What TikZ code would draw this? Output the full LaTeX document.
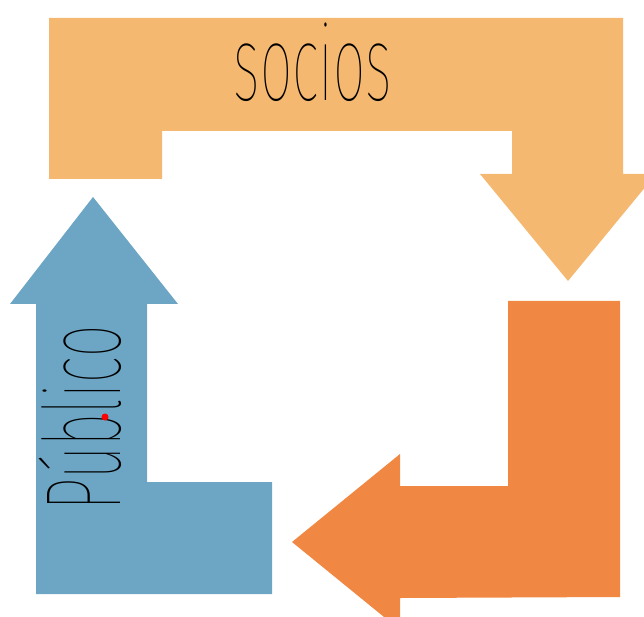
\documentclass[tikz,border=0pt]{standalone}
\usepackage{fontspec}
\newfontfamily\thinfont[FakeStretch=0.535]{Fira Sans Thin}
\definecolor{socioscol}{RGB}{244,184,112}
\definecolor{publicocol}{RGB}{108,166,196}
\definecolor{retornocol}{RGB}{240,136,67}
\tikzset{label text/.style={font=\thinfont\fontsize{61}{61}\selectfont, inner sep=0pt}}

\begin{document}
\begin{tikzpicture}[x=0.02cm,y=-0.02cm]

  \clip (0,0) rectangle (644,617);

  %top arrow
  \fill[socioscol] (49,18) -- (623,18) -- (623,174) -- (656,174) -- (568,281) -- (480,174)
        -- (512,174) -- (512,131) -- (162,131) -- (162,179) -- (49,179) -- cycle;

  %right arrow
  \fill[retornocol] (508,301) -- (620,301) -- (620,597) -- (400,598) -- (400,630) -- (292,542)
        -- (400,454) -- (400,486) -- (508,486) -- cycle;

  %left arrow
  \fill[publicocol] (93,197) -- (178,304) -- (147,304) -- (147,482) -- (272,482) -- (272,594)
        -- (36,594) -- (36,304) -- (10,304) -- cycle;

  % labels
  \node[label text, anchor=base] (socios) at (313,101) {socios};
  \node[label text, anchor=base, rotate=90] (publico) at (120,418) {Público};
  \fill[red] (105,417) circle (3.5);

\end{tikzpicture}
\end{document}
